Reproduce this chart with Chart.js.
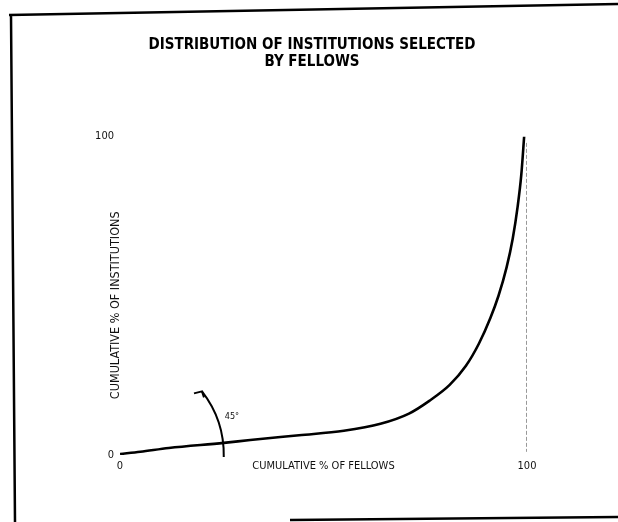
<!DOCTYPE html>
<html>
<head>
<meta charset="utf-8">
<script src="https://cdn.jsdelivr.net/npm/chart.js@4/dist/chart.umd.min.js"></script>
<style>
  html, body { margin: 0; padding: 0; background: #fff; }
  #wrap { width: 618px; height: 522px; }
</style>
</head>
<body>
<div id="wrap"><canvas id="lorenz" width="618" height="522"></canvas></div>
<script>
// valores (% acumulado)
var pctBolsistas    = [0, 5, 12, 25.5, 32, 44, 55, 64, 71, 76, 81, 85, 88.2, 91, 93, 95, 96.5, 97.7, 98.6, 99.3];
var pctInstituicoes = [0.3, 1.0, 2.2, 3.8, 4.7, 6.2, 7.6, 9.8, 13, 17, 22, 28, 35, 43, 50, 59, 68, 78, 88, 100];
var linhaX          = [100, 100];
var linhaY          = [98, 1];
var ticksX          = [0, 50, 100];
var ticksY          = [0, 100];
var rotuloX         = 'CUMULATIVE % OF FELLOWS';
var rotuloY         = 'CUMULATIVE % OF INSTITUTIONS';

var fonteEstreita = "'Liberation Sans Narrow', 'DejaVu Sans Condensed', sans-serif";

var pontosCurva = pctBolsistas.map(function (x, i) { return { x: x, y: pctInstituicoes[i] }; });
var pontosLinha = linhaX.map(function (x, i) { return { x: x, y: linhaY[i] }; });

// moldura do papel, titulo do eixo y e marca de 45 graus
var extras = {
    id: 'extras',
    beforeDraw: function (chart) {
        var c = chart.ctx;
        c.save();
        c.fillStyle = '#fff';
        c.fillRect(0, 0, chart.width, chart.height);
        c.strokeStyle = '#000';
        c.lineWidth = 2.5;
        c.beginPath();
        c.moveTo(9, 15); c.lineTo(618, 4);
        c.moveTo(11, 15); c.lineTo(15, 522);
        c.moveTo(290, 520); c.lineTo(618, 517);
        c.stroke();
        c.restore();
    },
    afterDraw: function (chart) {
        var c = chart.ctx;
        var sx = chart.scales.x, sy = chart.scales.y;
        var x0 = sx.getPixelForValue(0), y0 = sy.getPixelForValue(0);

        c.save();
        c.fillStyle = '#111';
        c.font = 'condensed 12.5px ' + fonteEstreita;
        c.translate(chart.chartArea.left - 4, sy.getPixelForValue(47));
        c.rotate(-Math.PI / 2);
        c.textAlign = 'center';
        c.textBaseline = 'middle';
        c.fillText(rotuloY, 0, 0);
        c.restore();

        // arco de 45 graus
        var r = sx.getPixelForValue(25.5) - x0;
        c.save();
        c.strokeStyle = '#000';
        c.lineWidth = 2;
        c.beginPath();
        c.arc(x0, y0, r, -0.66, 0.02);
        c.stroke();
        var ax = x0 + r * Math.cos(-0.66), ay = y0 + r * Math.sin(-0.66);
        c.beginPath();
        c.moveTo(ax - 8, ay + 2);
        c.lineTo(ax, ay);
        c.lineTo(ax + 2, ay + 6);
        c.stroke();
        c.fillStyle = '#111';
        c.font = '9px ' + fonteEstreita;
        c.textAlign = 'left';
        c.textBaseline = 'middle';
        c.fillText('45°', x0 + r + 1, sy.getPixelForValue(12));
        c.restore();
    }
};

var ctx = document.getElementById('lorenz').getContext('2d');
var grafico = new Chart(ctx, {
    type: 'scatter',
    data: {
        datasets: [{
            data: pontosCurva,
            showLine: true,
            borderColor: '#000',
            borderWidth: 2.6,
            pointRadius: 0,
            cubicInterpolationMode: 'monotone',
            fill: false
        }, {
            data: pontosLinha,
            showLine: true,
            borderColor: '#333',
            borderWidth: 1,
            borderDash: [4, 2],
            pointRadius: 0
        }]
    },
    options: {
        responsive: false,
        animation: false,
        layout: { padding: { left: 12, right: 6, top: 0, bottom: 47 } },
        plugins: {
            legend: { display: false },
            tooltip: { enabled: false },
            title: {
                display: true,
                text: ['DISTRIBUTION OF INSTITUTIONS SELECTED', 'BY FELLOWS'],
                color: '#000',
                font: { family: fonteEstreita, style: 'condensed', size: 15, weight: 'bold', lineHeight: 1.15 },
                padding: { top: 36, bottom: 66 }
            }
        },
        scales: {
            x: {
                type: 'linear',
                min: 0,
                max: 100,
                grid: { display: false, drawTicks: false },
                border: { display: false },
                afterBuildTicks: function (s) { s.ticks = ticksX.map(function (v) { return { value: v }; }); },
                afterFit: function (s) { s.height = 20; },
                ticks: {
                    padding: 5,
                    maxRotation: 0,
                    autoSkip: false,
                    color: '#111',
                    font: { family: fonteEstreita, size: 11 },
                    callback: function (v) { return v === 50 ? rotuloX : v; }
                }
            },
            y: {
                type: 'linear',
                min: 0,
                max: 100,
                grid: { display: false, drawTicks: false },
                border: { display: false },
                afterBuildTicks: function (s) { s.ticks = ticksY.map(function (v) { return { value: v }; }); },
                afterFit: function (s) { s.width = 108; },
                ticks: {
                    padding: 6,
                    color: '#111',
                    font: { family: fonteEstreita, size: 11 }
                }
            },
            margemDireita: {
                type: 'linear',
                position: 'right',
                display: true,
                grid: { display: false, drawTicks: false },
                border: { display: false },
                ticks: { display: false },
                afterFit: function (s) { s.width = 85; }
            }
        }
    },
    plugins: [extras]
});
</script>
</body>
</html>
